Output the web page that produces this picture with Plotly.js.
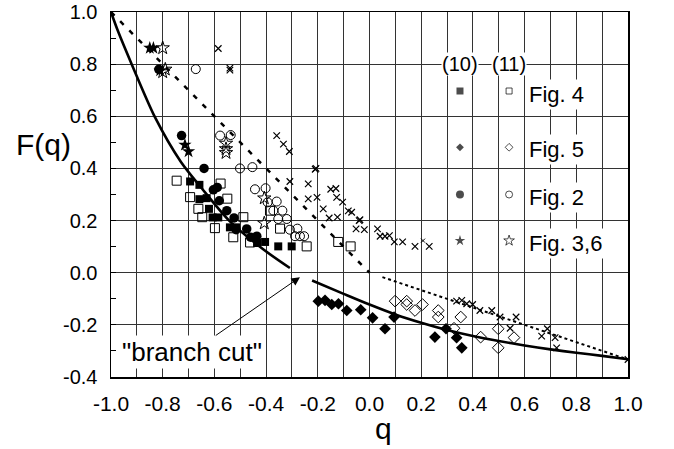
<!DOCTYPE html>
<html><head><meta charset="utf-8">
<script src="https://cdn.plot.ly/plotly-3.0.1.min.js"></script>
<style>html,body{margin:0;padding:0;background:#fff}#chart{width:674px;height:449px}</style>
</head><body><div id="chart"></div>
<script>
// ---- tick labels ----
var xTickVals = [-1.0,-0.8,-0.6,-0.4,-0.2,0.0,0.2,0.4,0.6,0.8,1.0];
var xTickText = ["-1.0","-0.8","-0.6","-0.4","-0.2","0.0","0.2","0.4","0.6","0.8","1.0"];
var yTickVals = [-0.4,-0.2,0.0,0.2,0.4,0.6,0.8,1.0];
var yTickText = ["-0.4","-0.2","0.0","0.2","0.4","0.6","0.8","1.0"];

// ---- curves ----
var upperCurveQ = [-1.0,-0.972,-0.92,-0.83,-0.73,-0.649,-0.54,-0.41,-0.308];
var upperCurveF = [1.0,0.924,0.80,0.597,0.426,0.324,0.197,0.089,0.018];
var lowerCurveQ = [-0.222,-0.1,0.0,0.1,0.2,0.3,0.4,0.5,0.6,0.7,0.8,0.9,1.0];
var lowerCurveF = [-0.030,-0.081,-0.122,-0.160,-0.192,-0.220,-0.243,-0.262,-0.279,-0.294,-0.307,-0.319,-0.332];
var dashedQ = [-1.0, 0.0];
var dashedF = [1.0, 0.0];
var dottedQ = [0.05, 1.0];
var dottedF = [-0.017, -0.333];

// ---- data points: (10) filled, (11) open ----
var fig4FilledQ = [-0.694,-0.658,-0.658,-0.630,-0.621,-0.607,-0.585,-0.540,-0.516,-0.435,-0.404,-0.353,-0.301];
var fig4FilledF = [0.350,0.337,0.282,0.286,0.245,0.212,0.212,0.174,0.174,0.114,0.118,0.101,0.101];
var fig4OpenQ = [-0.746,-0.694,-0.662,-0.647,-0.598,-0.576,-0.550,-0.488,-0.527,-0.462,-0.385,-0.346,-0.243,-0.121,-0.073];
var fig4OpenF = [0.353,0.290,0.245,0.213,0.171,0.342,0.284,0.213,0.136,0.116,0.238,0.169,0.101,0.118,0.101];

var fig5FilledQ = [-0.198,-0.172,-0.146,-0.120,-0.088,-0.034,0.012,0.060,0.095,0.253,0.296,0.337,0.357];
var fig5FilledF = [-0.109,-0.106,-0.122,-0.119,-0.145,-0.142,-0.173,-0.215,-0.170,-0.247,-0.215,-0.249,-0.288];
var fig5OpenQ = [0.099,0.144,0.144,0.176,0.205,0.266,0.266,0.327,0.353,0.430,0.498,0.498,0.559];
var fig5OpenF = [-0.109,-0.109,-0.122,-0.145,-0.122,-0.145,-0.170,-0.213,-0.170,-0.247,-0.215,-0.288,-0.249];

var fig2FilledQ = [-0.815,-0.727,-0.640,-0.604,-0.589,-0.581,-0.552,-0.524,-0.516,-0.475,-0.460,-0.436];
var fig2FilledF = [0.780,0.526,0.400,0.318,0.327,0.276,0.238,0.210,0.165,0.168,0.136,0.140];
var fig2OpenQ = [-0.672,-0.578,-0.537,-0.501,-0.453,-0.443,-0.402,-0.394,-0.359,-0.372,-0.337,-0.353,-0.320,-0.308,-0.279,-0.288,-0.269,-0.253];
var fig2OpenF = [0.781,0.526,0.528,0.400,0.405,0.320,0.324,0.270,0.273,0.238,0.238,0.206,0.206,0.165,0.169,0.140,0.140,0.140];

var fig36FilledQ = [-0.850,-0.836,-0.810,-0.714,-0.700];
var fig36FilledF = [0.862,0.862,0.775,0.490,0.465];
var fig36OpenQ = [-0.800,-0.790,-0.800,-0.555,-0.555,-0.555,-0.407,-0.407];
var fig36OpenF = [0.862,0.780,0.770,0.496,0.475,0.460,0.286,0.190];

var crossQ = [-1.0,-0.585,-0.540,-0.540,-0.359,-0.333,-0.310,-0.207,-0.210,-0.308,-0.237,-0.150,-0.130,-0.237,-0.203,-0.127,-0.104,-0.179,-0.156,-0.124,-0.082,-0.069,-0.037,-0.040,-0.052,-0.020,0.031,0.041,0.060,0.077,0.096,0.128,0.176,0.231,0.337,0.357,0.376,0.399,0.427,0.473,0.505,0.567,0.544,0.666,0.688,0.718,0.724,1.0];
var crossF = [1.0,0.860,0.777,0.785,0.526,0.493,0.465,0.400,0.397,0.350,0.341,0.320,0.323,0.283,0.289,0.289,0.271,0.245,0.210,0.213,0.237,0.232,0.203,0.200,0.168,0.165,0.168,0.140,0.140,0.142,0.118,0.118,0.101,0.101,-0.109,-0.106,-0.119,-0.122,-0.145,-0.145,-0.170,-0.170,-0.213,-0.243,-0.215,-0.249,-0.288,-0.333];

// ---- legend (drawn inside the plot) ----
var legendHeaders = ["(10)", "(11)"];
var legendLabels = ["Fig. 4", "Fig. 5", "Fig. 2", "Fig. 3,6"];
var legendFilledSymbols = ["square", "diamond", "circle", "star"];
var legendOpenSymbols = ["square-open", "diamond-open", "circle-open", "star-open"];
var legendMarkerF = [0.697, 0.481, 0.300, 0.123];
var legendTextF = [0.682, 0.472, 0.290, 0.113];
var legendFilledQ = 0.35, legendOpenQ = 0.54, legendTextQ = 0.605, legendCrossQ = 0.207, legendHeaderF = 0.80;

var FONT = "Liberation Sans, Arial, Helvetica, sans-serif";

function pts(q, f, sym, size, lw) {
  return {type:"scatter", mode:"markers", x:q, y:f, hoverinfo:"skip", showlegend:false,
    marker:{symbol:sym, size:size, color:"black", line:{color:"black", width:lw}}};
}
function line(q, f, dash, w, shape) {
  return {type:"scatter", mode:"lines", x:q, y:f, hoverinfo:"skip", showlegend:false,
    line:{color:"black", width:w, dash:dash, shape:shape||"linear", smoothing:0.8}};
}

var traces = [
  line(dashedQ, dashedF, "5px,8px", 2.5),
  line(dottedQ, dottedF, "3px,3px", 2),
  line(upperCurveQ, upperCurveF, "solid", 2.6, "spline"),
  line(lowerCurveQ, lowerCurveF, "solid", 2.6, "spline"),
  pts(crossQ, crossF, "x-thin-open", 6.5, 1.2),
  pts(fig4OpenQ, fig4OpenF, "square-open", 9, 1),
  pts(fig2OpenQ, fig2OpenF, "circle-open", 9, 1),
  pts(fig5OpenQ, fig5OpenF, "diamond-open", 9, 1),
  pts(fig36OpenQ, fig36OpenF, "star-open", 10, 1),
  pts(fig4FilledQ, fig4FilledF, "square", 8, 0),
  pts(fig2FilledQ, fig2FilledF, "circle", 9.5, 0),
  pts(fig5FilledQ, fig5FilledF, "diamond", 9, 0),
  pts(fig36FilledQ, fig36FilledF, "star", 10, 0)
];

// legend keys
var lfq = legendMarkerF.map(function(){return legendFilledQ;});
var loq = legendMarkerF.map(function(){return legendOpenQ;});
traces.push({type:"scatter", mode:"markers", x:lfq, y:legendMarkerF, hoverinfo:"skip", showlegend:false,
  marker:{symbol:legendFilledSymbols, size:[7,6,8,8], color:"black", line:{width:0}}});
traces.push({type:"scatter", mode:"markers", x:loq, y:legendMarkerF, hoverinfo:"skip", showlegend:false,
  marker:{symbol:legendOpenSymbols, size:[6,6,7,8], color:"black", line:{color:"black", width:1}}});
traces.push({type:"scatter", mode:"markers", x:[legendCrossQ], y:[legendMarkerF[3]], hoverinfo:"skip", showlegend:false,
  marker:{symbol:"x-thin-open", size:4, color:"black", line:{color:"black", width:1}}});

var annotations = [];
annotations.push({text:legendHeaders[0], x:legendFilledQ, y:legendHeaderF, xref:"x", yref:"y", showarrow:false,
  xanchor:"center", yanchor:"middle",
  font:{family:FONT, size:20, color:"black"}, bgcolor:"white", borderpad:0});
annotations.push({text:legendHeaders[1], x:legendOpenQ, y:legendHeaderF, xref:"x", yref:"y", showarrow:false,
  xanchor:"center", yanchor:"middle",
  font:{family:FONT, size:20, color:"black"}, bgcolor:"white", borderpad:0});
legendLabels.forEach(function(t, i){
  annotations.push({text:t, x:legendTextQ, y:legendTextF[i], xref:"x", yref:"y", xanchor:"left", yanchor:"middle",
    showarrow:false, font:{family:FONT, size:22, color:"black"}, bgcolor:"white", borderpad:2});
});
annotations.push({text:'"branch cut"', x:-0.269, y:-0.017, xref:"x", yref:"y",
  ax:-0.687, ay:-0.304, axref:"x", ayref:"y", showarrow:true, arrowhead:2, arrowsize:1.7, arrowwidth:1,
  arrowcolor:"black", standoff:0, font:{family:FONT, size:26, color:"black"}, bgcolor:"white", borderpad:1});
annotations.push({text:"F(q)", x:-0.1315, y:0.493, xref:"paper", yref:"y", showarrow:false,
  xanchor:"center", yanchor:"middle", font:{family:FONT, size:30, color:"black"}});
annotations.push({text:"q", x:0.528, y:-0.14, xref:"paper", yref:"paper", showarrow:false,
  xanchor:"center", yanchor:"middle", font:{family:FONT, size:30, color:"black"}});

var layout = {
  width:674, height:449,
  margin:{l:111, r:46, t:12, b:72},
  paper_bgcolor:"white", plot_bgcolor:"white",
  showlegend:false,
  font:{family:FONT, color:"black"},
  xaxis:{range:[-1,1], tickmode:"array", tickvals:xTickVals, ticktext:xTickText,
    showgrid:true, gridcolor:"#333", gridwidth:1, zeroline:false,
    minor:{dtick:0.1, tick0:0, showgrid:true, gridcolor:"#333", gridwidth:1},
    showline:true, mirror:true, linecolor:"black", linewidth:1.5, ticks:"",
    tickfont:{family:FONT, size:21, color:"black"}, ticklabelstandoff:7, ticklabeloverflow:"allow"},
  yaxis:{range:[-0.4,1.0], tickmode:"array", tickvals:yTickVals, ticktext:yTickText,
    showgrid:true, gridcolor:"#333", gridwidth:1, zeroline:false,
    minor:{dtick:0.1, tick0:0, ticks:"inside", ticklen:5, tickcolor:"black", showgrid:false},
    showline:true, mirror:true, linecolor:"black", linewidth:1.5, ticks:"inside", ticklen:5, tickcolor:"black",
    tickfont:{family:FONT, size:20, color:"black"}, ticklabelstandoff:8, ticklabeloverflow:"allow"},
  annotations:annotations
};

Plotly.newPlot("chart", traces, layout, {staticPlot:true, displayModeBar:false});
</script></body></html>
